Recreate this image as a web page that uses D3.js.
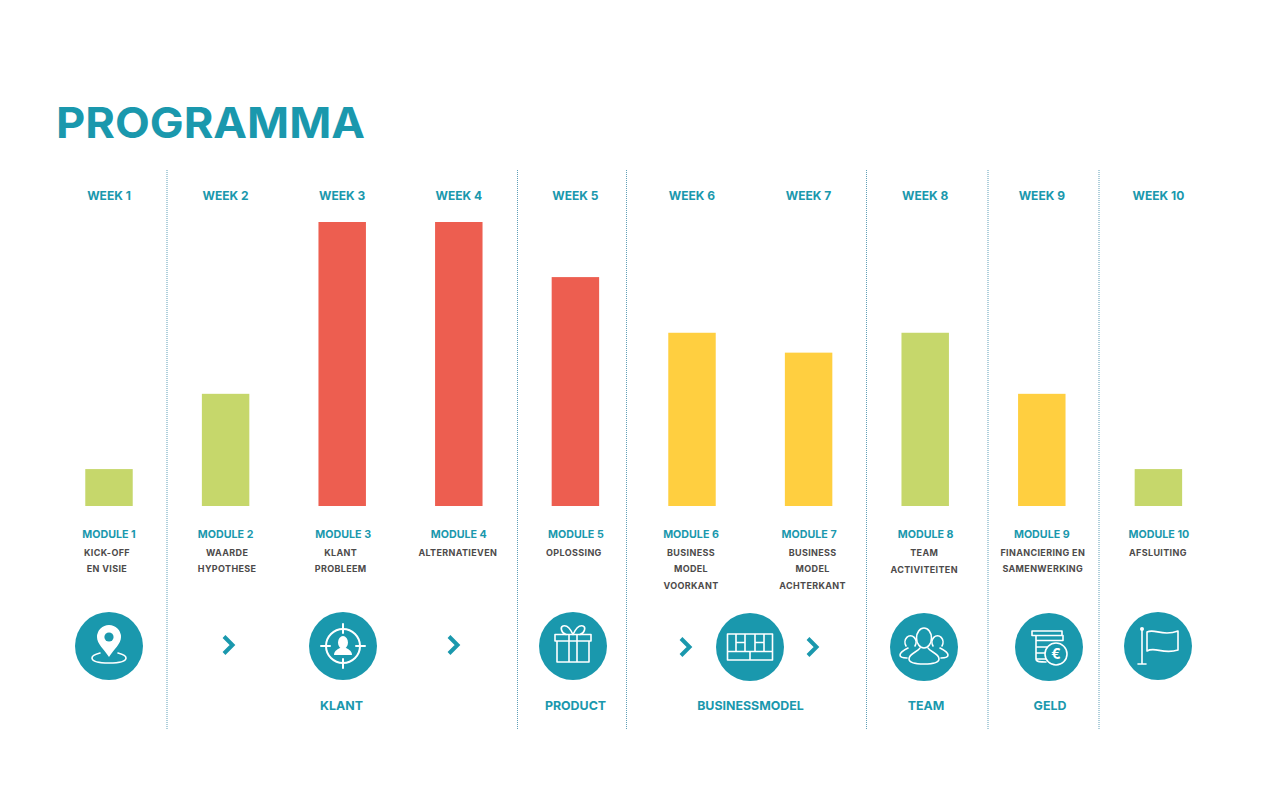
<!DOCTYPE html>
<html>
  <head>
    <title>Programma</title>
    <script src="https://d3js.org/d3.v7.min.js"></script>
    <style>
      html, body { margin: 0; padding: 0; background: #fff; overflow: hidden; }
      text { font-family: Inter, Arial, sans-serif; font-weight: 700; text-anchor: middle; }
      .title { font-size: 43px; text-anchor: start; fill: #1a98ad; }
      .week { font-size: 12px; fill: #1a98ad; }
      .module { font-size: 10.7px; fill: #1a98ad; }
      .desc { font-size: 9px; letter-spacing: 0.35px; fill: #4d4a4a; }
      .group { font-size: 12.4px; fill: #1a98ad; }
      .divider { stroke: #5f9fb8; stroke-width: 1; stroke-dasharray: 1 1; }
      .ico { fill: none; stroke: #fff; stroke-width: 1.6; stroke-linejoin: round; stroke-linecap: round; }
    </style>
  </head>
  <body>
    <svg id="main" width="1276" height="793"></svg>
    <script>
      var weeks = ['WEEK 1','WEEK 2','WEEK 3','WEEK 4','WEEK 5','WEEK 6','WEEK 7','WEEK 8','WEEK 9','WEEK 10'];
      var modules = ['MODULE 1','MODULE 2','MODULE 3','MODULE 4','MODULE 5','MODULE 6','MODULE 7','MODULE 8','MODULE 9','MODULE 10'];
      var descriptions = [
        ['KICK-OFF','EN VISIE'],
        ['WAARDE','HYPOTHESE'],
        ['KLANT','PROBLEEM'],
        ['ALTERNATIEVEN'],
        ['OPLOSSING'],
        ['BUSINESS','MODEL','VOORKANT'],
        ['BUSINESS','MODEL','ACHTERKANT'],
        ['TEAM','ACTIVITEITEN'],
        ['FINANCIERING EN','SAMENWERKING'],
        ['AFSLUITING']
      ];
      // relative bar height, no axis in the picture so tallest = 100
      var barValues = [13, 39.5, 100, 100, 80.6, 61, 54, 61, 39.5, 13];
      var barKinds = ['licht','licht','zwaar','zwaar','zwaar','middel','middel','licht','middel','licht'];
      var groupLabels = ['KLANT','PRODUCT','BUSINESSMODEL','TEAM','GELD'];

      var svg = d3.select('#main');

      var x = d3.scaleBand().domain(weeks).range([50.7, 1216.7]).paddingInner(0.593).paddingOuter(0.2965);
      var y = d3.scaleLinear().domain([0, 100]).range([506, 222]);
      var color = d3.scaleOrdinal().domain(['licht','zwaar','middel']).range(['#c6d76b','#ed5e50','#ffcf40']);
      function cx(week) { return x(week) + x.bandwidth() / 2; }

      svg.append('text').attr('class', 'title').attr('x', 56).attr('y', 138)
        .attr('textLength', 309).attr('lengthAdjust', 'spacingAndGlyphs').text('PROGRAMMA');

      // dividers
      svg.selectAll('.divider').data([167, 517.5, 626.5, 866.5, 988, 1099]).enter().append('line')
        .attr('class', 'divider')
        .attr('x1', function(d){ return d; }).attr('x2', function(d){ return d; })
        .attr('y1', 170).attr('y2', 730);

      // bars
      svg.selectAll('.bar').data(barValues).enter().append('rect')
        .attr('class', 'bar')
        .attr('x', function(d, i){ return x(weeks[i]); })
        .attr('width', x.bandwidth())
        .attr('y', function(d){ return y(d); })
        .attr('height', function(d){ return y(0) - y(d); })
        .style('fill', function(d, i){ return color(barKinds[i]); });

      svg.selectAll('.week').data(weeks).enter().append('text')
        .attr('class', 'week').attr('x', cx).attr('y', 200).text(function(d){ return d; });

      var moduleNudge = [0, 0, 1, 0, 0.5, -1, 0.5, 0.5, 0, 0.5];
      svg.selectAll('.module').data(modules).enter().append('text')
        .attr('class', 'module')
        .attr('x', function(d, i){ return cx(weeks[i]) + moduleNudge[i]; })
        .attr('y', 538).text(function(d){ return d; });

      var descNudge = [-2, 1.5, -1.5, -1, -1.5, -1, 4, -1, 1, -0.5];
      var lineY = [556, 572, 589];
      descriptions.forEach(function(lines, i) {
        lines.forEach(function(line, j) {
          svg.append('text').attr('class', 'desc')
            .attr('x', cx(weeks[i]) + descNudge[i])
            .attr('y', (i == 7 && j == 1) ? 573 : lineY[j])
            .text(line);
        });
      });

      var groupX = [341.5, 575.5, 750.5, 926, 1050];
      svg.selectAll('.group').data(groupLabels).enter().append('text')
        .attr('class', 'group')
        .attr('x', function(d, i){ return groupX[i]; })
        .attr('y', 710).text(function(d){ return d; });

      // chevrons
      [[229,645],[454,645],[686,647],[813,647]].forEach(function(p) {
        svg.append('path').attr('transform', 'translate(' + p + ')')
          .attr('d', 'M-5,-8.5L3.5,0L-5,8.5')
          .attr('fill', 'none').attr('stroke', '#1a98ad').attr('stroke-width', 4);
      });

      function badge(px, py) {
        var g = svg.append('g').attr('transform', 'translate(' + px + ',' + py + ')');
        g.append('circle').attr('r', 34).attr('fill', '#1a98ad');
        return g;
      }
      function ico(g, d) { return g.append('path').attr('class', 'ico').attr('d', d); }

      // pin
      var g = badge(109, 646);
      ico(g, 'M-9,7C-15,8.5 -17,10 -17,12C-17,15.5 -9,17 0,17C9,17 17,15.5 17,12C17,10 15,8.5 9,7');
      g.append('path').attr('fill', '#fff')
        .attr('d', 'M0,11C-5,3 -12,-2 -12,-9A12,12 0 0 1 12,-9C12,-2 5,3 0,11Z');
      g.append('circle').attr('cy', -9).attr('r', 4.6).attr('fill', '#1a98ad');

      // target
      g = badge(343, 646);
      g.append('circle').attr('class', 'ico').attr('r', 17).style('stroke-width', 2);
      ico(g, 'M0,-22V-13M0,13V22M-22,0H-13M13,0H22').style('stroke-width', 2);
      g.append('ellipse').attr('cy', -3.5).attr('rx', 5).attr('ry', 6.5).attr('fill', '#fff');
      g.append('path').attr('fill', '#fff').attr('d', 'M-9,9C-9,4 -4,3 -2,1H2C4,3 9,4 9,9Z');

      // gift
      g = badge(573, 646);
      ico(g, 'M-18,-11.5H18V-5H-18ZM-16,-5V16H16V-5M-4,-11.5V16M4,-11.5V16');
      ico(g, 'M0,-11.5C-3,-18 -7,-21 -10,-20C-13,-19 -12,-13 -7,-11.5M0,-11.5C3,-18 7,-21 10,-20C13,-19 12,-13 7,-11.5');

      // business model canvas
      g = badge(750, 647);
      ico(g, 'M-22.5,-13H22.5V13H-22.5ZM-22.5,4.5H22.5M0,4.5V13M-14,-13V4.5M-5,-13V4.5M5,-13V4.5M14,-13V4.5M-14,-4.5H-5M5,-4.5H14');

      // team
      g = badge(924, 647);
      ico(g, 'M-18,-1A5.5,6.5 0 1 1 -9,-1M18,-1A5.5,6.5 0 1 0 9,-1');
      ico(g, 'M-16,1C-20,3 -24,5 -24,8C-24,10 -21,11 -17,11');
      ico(g, 'M16,1C20,3 24,5 24,8C24,10 21,11 17,11');
      g.append('ellipse').attr('class', 'ico').attr('cy', -9).attr('rx', 7.5).attr('ry', 10);
      ico(g, 'M-4,1C-6,5 -15,6 -15,12C-15,16 -8,17 0,17C8,17 15,16 15,12C15,6 6,5 4,1');

      // coins
      g = badge(1049, 647);
      ico(g, 'M-17,-16H13V-11.5H-17Z M-13,-11.5H14V-6.5H-13Z M-13,-6.5V0H-2 M-13,0V6H-4 M-13,6V12H-2 M-13,12C-13,15 -8,15 -3,15');
      g.append('circle').attr('class', 'ico').attr('cx', 7).attr('cy', 7).attr('r', 11).style('fill', '#1a98ad');
      g.append('text').attr('x', 7).attr('y', 12).attr('fill', '#fff').attr('font-size', 14).text('€');

      // flag
      g = badge(1158, 646);
      ico(g, 'M-16,-17V18M-20,18H-12');
      g.append('circle').attr('cx', -16).attr('cy', -17).attr('r', 2).attr('fill', '#fff');
      ico(g, 'M-11,-14C-3,-18 4,-9 20,-15V4C5,9 -3,0 -11,5Z');
    </script>
  </body>
</html>
